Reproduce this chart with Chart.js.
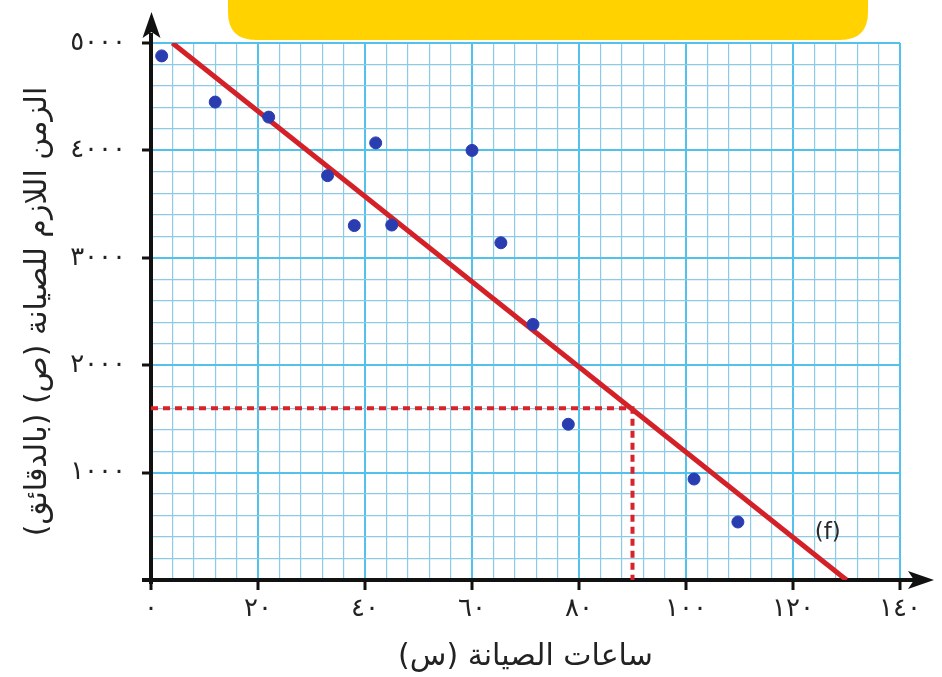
<!DOCTYPE html>
<html>
<head>
<meta charset="utf-8">
<script src="https://cdn.jsdelivr.net/npm/chart.js@4/dist/chart.umd.min.js"></script>
<style>
  html, body { margin: 0; padding: 0; background: #ffffff; }
  #wrap { width: 942px; height: 677px; }
</style>
</head>
<body>
<div id="wrap"><canvas id="c" width="942" height="677"></canvas></div>
<script>
// ---- data ----
const hours   = [2, 12, 22, 33, 38, 42, 45, 60, 65.4, 71.4, 78, 101.5, 109.7];
const minutes = [4880, 4450, 4310, 3765, 3300, 4070, 3305, 4000, 3140, 2380, 1450, 940, 540];
const fitX = [4, 130];
const fitY = [5000, 0];
const guideX = [0, 90, 90];
const guideY = [1600, 1600, 0];
const xTickLabels = ['٠', '٢٠', '٤٠', '٦٠', '٨٠', '١٠٠', '١٢٠', '١٤٠'];
const yTickLabels = ['', '١٠٠٠', '٢٠٠٠', '٣٠٠٠', '٤٠٠٠', '٥٠٠٠'];
const xTitle = 'ساعات الصيانة (س)';
const yTitle = 'الزمن اللازم للصيانة (ص) (بالدقائق)';
const lineLabel = '(f)';
const lineLabelAt = [126.5, 440];

const FONT = '"DejaVu Sans", "Noto Sans", sans-serif';
const MAJOR = '#52c2ec';
const MINOR = '#8ccbe3';

const pts = hours.map((h, i) => ({ x: h, y: minutes[i] }));
const fit = fitX.map((v, i) => ({ x: v, y: fitY[i] }));
const guide = guideX.map((v, i) => ({ x: v, y: guideY[i] }));

const decor = {
  id: 'decor',
  beforeDraw(chart) {
    const ctx = chart.ctx;
    ctx.save();
    ctx.fillStyle = '#ffd200';
    const x0 = 228, x1 = 868, y0 = -30, y1 = 40, r = 28;
    ctx.beginPath();
    ctx.moveTo(x0, y0);
    ctx.lineTo(x1, y0);
    ctx.lineTo(x1, y1 - r);
    ctx.quadraticCurveTo(x1, y1, x1 - r, y1);
    ctx.lineTo(x0 + r, y1);
    ctx.quadraticCurveTo(x0, y1, x0, y1 - r);
    ctx.closePath();
    ctx.fill();
    ctx.restore();
  },
  beforeDatasetsDraw(chart) {
    const ctx = chart.ctx;
    const xs = chart.scales.x, ys = chart.scales.y;
    const ox = xs.getPixelForValue(0), oy = ys.getPixelForValue(0);
    const xEnd = xs.getPixelForValue(140), yTop = ys.getPixelForValue(5000);
    ctx.save();
    ctx.strokeStyle = '#111';
    ctx.fillStyle = '#111';
    ctx.lineWidth = 4;
    ctx.beginPath();
    ctx.moveTo(ox - 9, oy);
    ctx.lineTo(xEnd + 15, oy);
    ctx.stroke();
    ctx.beginPath();
    ctx.moveTo(ox, oy + 4);
    ctx.lineTo(ox, yTop - 10);
    ctx.stroke();
    ctx.beginPath();
    ctx.moveTo(xEnd + 34, oy);
    ctx.lineTo(xEnd + 8, oy - 9);
    ctx.lineTo(xEnd + 14, oy);
    ctx.lineTo(xEnd + 8, oy + 9);
    ctx.closePath();
    ctx.fill();
    ctx.beginPath();
    ctx.moveTo(ox + 0.5, yTop - 31);
    ctx.lineTo(ox - 8.5, yTop - 5);
    ctx.lineTo(ox + 0.5, yTop - 11);
    ctx.lineTo(ox + 9.5, yTop - 5);
    ctx.closePath();
    ctx.fill();
    ctx.restore();
  },
  afterDatasetsDraw(chart) {
    const ctx = chart.ctx;
    const xs = chart.scales.x, ys = chart.scales.y;
    ctx.save();
    ctx.fillStyle = '#2a2a2a';
    ctx.font = '23px ' + FONT;
    ctx.textAlign = 'center';
    ctx.textBaseline = 'middle';
    ctx.fillText(lineLabel, xs.getPixelForValue(lineLabelAt[0]), ys.getPixelForValue(lineLabelAt[1]));
    ctx.restore();
  }
};

new Chart(document.getElementById('c'), {
  type: 'scatter',
  data: {
    datasets: [
      {
        type: 'line', data: guide, borderColor: '#d8232a', borderWidth: 4,
        borderDash: [7, 5], pointRadius: 0, fill: false, tension: 0, order: 3
      },
      {
        type: 'line', data: fit, borderColor: '#d42027', borderWidth: 5,
        pointRadius: 0, fill: false, tension: 0, order: 2
      },
      {
        data: pts, backgroundColor: '#2a3db0', borderColor: '#2a3db0',
        pointRadius: 6, pointHoverRadius: 6, order: 1
      }
    ]
  },
  options: {
    responsive: false,
    animation: false,
    layout: { padding: { top: 43, right: 42, left: 0, bottom: 0 } },
    plugins: { legend: { display: false }, tooltip: { enabled: false } },
    scales: {
      x: {
        type: 'linear', min: 0, max: 140,
        afterFit(s) { s.height = 97; },
        border: { display: false },
        grid: {
          color: c => (c.tick && c.tick.value % 20 === 0) ? MAJOR : MINOR,
          lineWidth: c => (c.tick && c.tick.value % 20 === 0) ? 2 : 1.2,
          tickColor: c => (c.tick && c.tick.value % 20 === 0) ? '#111' : 'rgba(0,0,0,0)',
          tickLength: 10, tickWidth: 3, drawTicks: true
        },
        ticks: {
          stepSize: 4, autoSkip: false, maxRotation: 0, padding: 4,
          color: '#222', font: { family: FONT, size: 26 },
          callback: v => (v % 20 === 0) ? xTickLabels[v / 20] : ''
        },
        title: {
          display: true, text: xTitle, color: '#222',
          font: { family: FONT, size: 30 }, padding: { top: 0, bottom: 2 }
        }
      },
      y: {
        type: 'linear', min: 0, max: 5000,
        afterFit(s) { s.width = 151; },
        border: { display: false },
        grid: {
          color: c => (c.tick && c.tick.value % 1000 === 0) ? MAJOR : MINOR,
          lineWidth: c => (c.tick && c.tick.value % 1000 === 0) ? 2 : 1.2,
          tickColor: c => (c.tick && c.tick.value % 1000 === 0) ? '#111' : 'rgba(0,0,0,0)',
          tickLength: 9, tickWidth: 3, drawTicks: true
        },
        ticks: {
          stepSize: 200, autoSkip: false, padding: 16,
          color: '#222', font: { family: FONT, size: 26 },
          callback: v => (v % 1000 === 0) ? yTickLabels[v / 1000] : ''
        },
        title: {
          display: true, text: yTitle, color: '#222',
          font: { family: FONT, size: 30 }, padding: { top: 20, bottom: 0 }
        }
      }
    }
  },
  plugins: [decor]
});
</script>
</body>
</html>
